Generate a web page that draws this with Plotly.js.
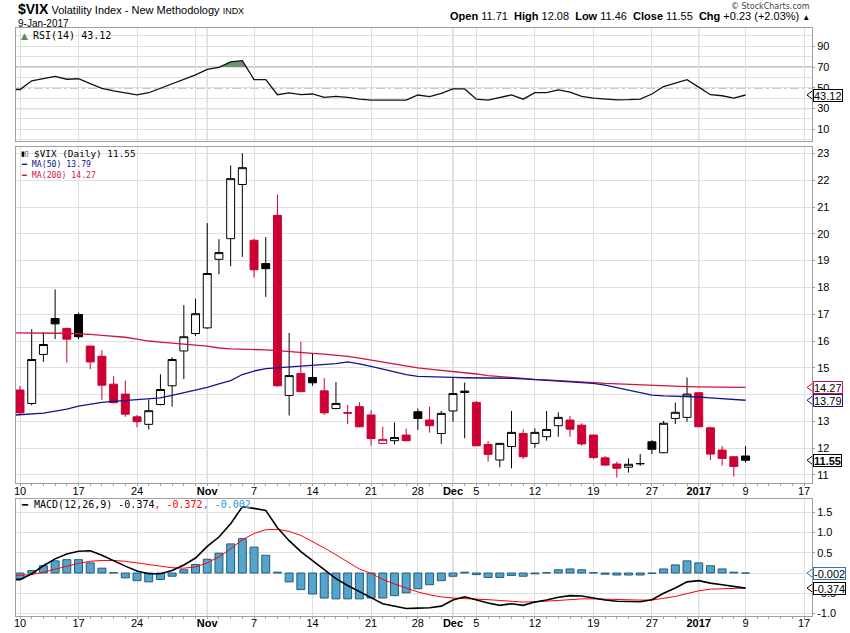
<!DOCTYPE html>
<html><head><meta charset="utf-8">
<script src="https://cdn.plot.ly/plotly-3.0.1.min.js"></script>
<style>html,body{margin:0;padding:0;background:#fff;}#chart{width:850px;height:633px;}</style>
</head><body><div id="chart"></div>
<script>
// ---------- DATA ----------
const dates = ['2016-10-10','2016-10-11','2016-10-12','2016-10-13','2016-10-14','2016-10-17','2016-10-18','2016-10-19','2016-10-20','2016-10-21',
 '2016-10-24','2016-10-25','2016-10-26','2016-10-27','2016-10-28','2016-10-31','2016-11-01','2016-11-02','2016-11-03','2016-11-04',
 '2016-11-07','2016-11-08','2016-11-09','2016-11-10','2016-11-11','2016-11-14','2016-11-15','2016-11-16','2016-11-17','2016-11-18',
 '2016-11-21','2016-11-22','2016-11-23','2016-11-25','2016-11-28','2016-11-29','2016-11-30','2016-12-01','2016-12-02','2016-12-05',
 '2016-12-06','2016-12-07','2016-12-08','2016-12-09','2016-12-12','2016-12-13','2016-12-14','2016-12-15','2016-12-16','2016-12-19',
 '2016-12-20','2016-12-21','2016-12-22','2016-12-23','2016-12-27','2016-12-28','2016-12-29','2016-12-30','2017-01-03','2017-01-04',
 '2017-01-05','2017-01-06','2017-01-09'];
const openP = [14.17,13.67,15.50,16.84,16.47, 16.99,15.81,15.43,14.39,14.02, 13.17,12.89,13.63,14.33,15.63, 16.28,16.49,19.05,19.82,21.84,
 19.76,18.89,20.69,13.97,14.79, 14.64,14.14,13.48,13.33,13.55, 13.24,12.18,12.28,12.49,13.36, 13.05,12.55,13.39,14.13,13.71,
 12.14,11.56,12.06,12.55,12.18, 12.43,12.84,13.05,12.86,12.49, 11.64,11.41,11.29,11.43,12.24, 11.83,13.11,13.15,14.07,12.76,
 11.93,11.68,11.71];
const highP = [14.32,16.44,16.32,17.93,16.50, 17.06,15.83,15.66,14.69,14.52, 13.24,13.82,14.76,15.39,17.34, 17.58,20.40,19.80,22.55,23.01,
 19.82,19.88,21.46,16.30,15.97, 15.53,14.61,14.47,13.61,13.72, 13.42,12.80,12.96,12.73,13.48, 13.55,13.39,14.63,14.45,13.76,
 12.27,12.20,13.39,12.71,12.74, 13.39,13.34,13.20,12.93,12.50, 11.71,11.50,11.62,11.78,12.30, 13.02,13.70,14.64,14.09,12.80,
 12.08,11.71,12.08];
const lowP = [13.24,13.60,15.22,16.07,15.19, 16.07,14.95,13.80,13.67,13.17, 12.78,12.70,13.60,13.55,14.58, 16.19,16.45,18.49,18.79,19.14,
 18.37,17.65,14.29,13.22,14.09, 14.33,13.24,13.45,12.90,12.78, 12.09,12.16,12.14,12.26,12.68, 12.58,12.16,12.99,12.37,12.07,
 11.50,11.29,11.25,11.60,12.02, 12.28,12.43,12.43,12.09,11.60, 11.35,10.90,11.09,11.34,11.78, 11.81,12.90,12.99,12.78,11.56,
 11.35,10.94,11.46];
const closeP = [13.32,15.31,15.87,16.64,16.07, 16.16,15.22,14.35,13.70,13.27, 12.99,13.40,14.19,15.31,16.16, 17.02,18.52,19.30,22.06,22.47,
 18.66,18.70,14.33,14.71,14.11, 14.44,13.32,13.67,13.31,12.80, 12.36,12.33,12.40,12.28,13.11, 12.84,13.30,14.04,14.08,12.09,
 11.77,12.18,12.59,11.68,12.59, 12.70,13.15,12.71,12.16,11.65, 11.37,11.25,11.40,11.42,11.96, 12.93,13.34,14.02,12.80,11.78,
 11.62,11.32,11.55];
const priorClose = 13.48; // close of the session before the first one shown

// indicator lines start one session before the first candle (clipped by the frame)
const ma50 = [13.22,13.25,13.28,13.31,13.38,13.46,13.57,13.65,13.71,13.75,13.78,13.81,13.84,13.88,13.97,14.07,14.17,14.27,14.40,14.52,
 14.75,14.88,14.97,15.00,15.03,15.05,15.09,15.12,15.16,15.22,15.15,15.05,14.95,14.84,14.75,14.68,14.66,14.65,14.64,14.63,
 14.63,14.63,14.62,14.61,14.59,14.56,14.53,14.51,14.48,14.45,14.42,14.35,14.26,14.17,14.08,13.98,13.95,13.94,13.93,13.91,
 13.88,13.85,13.82,13.79];
const ma200 = [16.31,16.30,16.30,16.30,16.29,16.29,16.28,16.25,16.21,16.18,16.14,16.07,16.00,15.96,15.93,15.89,15.85,15.81,15.74,15.71,
 15.70,15.69,15.67,15.64,15.60,15.56,15.54,15.51,15.47,15.43,15.36,15.29,15.21,15.13,15.06,15.00,14.95,14.91,14.87,14.83,
 14.77,14.71,14.67,14.63,14.59,14.57,14.55,14.53,14.50,14.47,14.45,14.42,14.40,14.38,14.36,14.34,14.32,14.31,14.30,14.29,
 14.28,14.28,14.27,14.27];
const rsi = [48.5,48.4,56.8,59.0,61.0,58.3,58.8,54.0,49.5,47.0,45.0,43.2,45.3,49.5,54.3,58.5,62.5,67.8,69.7,75.0,
 76.2,57.9,57.9,43.4,45.1,43.4,44.1,40.8,41.8,40.8,39.1,38.2,38.2,38.2,38.2,43.1,41.5,44.8,49.0,49.0,
 39.1,38.2,40.5,43.2,39.1,45.4,45.4,48.0,45.8,41.9,40.1,39.3,38.4,38.6,39.1,44.1,51.3,54.5,57.9,50.7,
 43.4,42.4,40.1,43.12];
const macd = [-0.17,-0.165,-0.02,0.18,0.35,0.47,0.54,0.55,0.44,0.30,0.17,0.05,-0.02,-0.02,0.06,0.20,0.37,0.66,0.89,1.22,
 1.64,1.60,1.55,1.12,0.80,0.53,0.30,0.08,-0.14,-0.31,-0.45,-0.61,-0.76,-0.82,-0.88,-0.87,-0.86,-0.82,-0.67,-0.59,
 -0.67,-0.74,-0.80,-0.76,-0.80,-0.72,-0.67,-0.60,-0.56,-0.57,-0.62,-0.67,-0.70,-0.71,-0.71,-0.66,-0.50,-0.37,-0.22,-0.19,
 -0.25,-0.29,-0.33,-0.374];
const signal = [-0.07,-0.06,-0.04,0.02,0.09,0.17,0.24,0.29,0.31,0.31,0.29,0.25,0.21,0.16,0.13,0.12,0.15,0.25,0.40,0.60,
 0.82,0.98,1.07,1.08,1.03,0.93,0.78,0.62,0.45,0.28,0.10,-0.01,-0.16,-0.27,-0.37,-0.47,-0.54,-0.59,-0.62,-0.63,
 -0.64,-0.66,-0.68,-0.70,-0.72,-0.71,-0.70,-0.68,-0.66,-0.64,-0.64,-0.65,-0.66,-0.67,-0.67,-0.67,-0.62,-0.58,-0.51,-0.44,
 -0.40,-0.385,-0.378,-0.372];
const hist = [-0.14,0.06,0.18,0.30,0.33,0.33,0.25,0.12,0.01,-0.12,-0.19,-0.22,-0.16,-0.08,0.08,0.21,0.34,0.49,0.72,0.85,
 0.64,0.44,0.02,-0.22,-0.41,-0.52,-0.62,-0.64,-0.64,-0.64,-0.62,-0.62,-0.56,-0.49,-0.39,-0.29,-0.19,-0.08,0.02,-0.04,
 -0.11,-0.11,-0.06,-0.08,-0.02,0.01,0.08,0.10,0.08,0.01,-0.03,-0.05,-0.05,-0.05,-0.01,0.10,0.20,0.30,0.25,0.18,
 0.10,0.02,-0.002];

// x tick positions are session numbers (0 = first session); 67 is a future session (17 Jan)
const tickIdx  = [0,5,10,15,16,20,25,30,34,37,39,44,49,54,58,62,67];
const tickText = ['10','17','24','','<b>Nov</b>','7','14','21','28','<b>Dec</b>','5','12','19','27','<b>2017</b>','9','17'];
const monthIdx = [16,37,58];
const rsiTicks = [10,30,50,70,90];
const rsiMinor = [0,20,40,60,80,100];
const rsiBands = [30,70];
const rsiMid = 50;
const priceTicks = [11,12,13,14,15,16,17,18,19,20,21,22,23];
const macdTicks = [-1,-0.5,0,0.5,1,1.5];
// tick labels that sit fully behind a value tag in the reference
const hiddenPriceTicks = [14];
const hiddenMacdTicks = [0];

// ---------- BUILD ----------
const W = 850, H = 633, L = 16, R = 38;
const PW = W - L - R;
const px = v => (v - L) / PW;      // pixel x -> paper x
const py = v => 1 - v / H;          // pixel y -> paper y
const N = closeP.length;
const candX = closeP.map((_, i) => i);
const lineX = rsi.map((_, k) => k - 1);
const xRange = [-0.342, 67.68];
const pxToData = v => xRange[0] + (v - L) / PW * (xRange[1] - xRange[0]);

const RED = 'rgb(204,0,51)', NAVY = 'rgb(20,20,140)', MA2C = 'rgb(210,20,60)';
const gridC = 'rgb(224,224,224)', frameC = 'rgb(160,160,160)', monthC = 'rgb(188,188,188)';
const HISTC = 'rgb(84,164,206)', HISTL = 'rgb(32,92,122)';

// split candles: black if close >= previous close, red otherwise
const grp = {k: {x:[],o:[],h:[],l:[],c:[]}, r: {x:[],o:[],h:[],l:[],c:[]}};
for (let i = 0; i < N; i++) {
  const prev = i === 0 ? priorClose : closeP[i-1];
  const g = closeP[i] >= prev ? grp.k : grp.r;
  g.x.push(i); g.o.push(openP[i]); g.h.push(highP[i]); g.l.push(lowP[i]); g.c.push(closeP[i]);
}
function candle(g, col) {
  return {type:'candlestick', x:g.x, open:g.o, high:g.h, low:g.l, close:g.c, xaxis:'x', yaxis:'y',
    increasing:{line:{color:col,width:1}, fillcolor:'#ffffff'},
    decreasing:{line:{color:col,width:1}, fillcolor:col},
    whiskerwidth:0, hoverinfo:'skip', showlegend:false};
}

// RSI > 70 fill polygon (with interpolated crossings)
const fx = [], fy = [];
for (let k = 0; k < rsi.length; k++) {
  if (k > 0) {
    const a = rsi[k-1], b = rsi[k];
    if ((a - 70) * (b - 70) < 0) { const t = (70 - a) / (b - a); fx.push(lineX[k-1] + t); fy.push(70); }
  }
  fx.push(lineX[k]); fy.push(Math.max(rsi[k], 70));
}

const traces = [
  {type:'scatter', mode:'lines', x:fx, y:fx.map(() => 70), xaxis:'x2', yaxis:'y2', line:{width:0}, hoverinfo:'skip', showlegend:false},
  {type:'scatter', mode:'lines', x:fx, y:fy, xaxis:'x2', yaxis:'y2', fill:'tonexty', fillcolor:'rgb(110,150,110)', line:{width:0}, hoverinfo:'skip', showlegend:false},
  {type:'scatter', mode:'lines', x:lineX, y:rsi, xaxis:'x2', yaxis:'y2', line:{color:'#111', width:1.3}, hoverinfo:'skip', showlegend:false},
  {type:'scatter', mode:'lines', x:lineX, y:ma200, xaxis:'x', yaxis:'y', line:{color:MA2C, width:1.3}, hoverinfo:'skip', showlegend:false},
  {type:'scatter', mode:'lines', x:lineX, y:ma50, xaxis:'x', yaxis:'y', line:{color:NAVY, width:1.3}, hoverinfo:'skip', showlegend:false},
  candle(grp.k, '#000000'),
  candle(grp.r, RED),
  {type:'bar', x:candX, y:hist, xaxis:'x3', yaxis:'y3', width:0.68, marker:{color:HISTC, line:{color:HISTL, width:1}}, hoverinfo:'skip', showlegend:false},
  {type:'scatter', mode:'lines', x:lineX, y:signal, xaxis:'x3', yaxis:'y3', line:{color:'rgb(255,0,0)', width:1}, hoverinfo:'skip', showlegend:false},
  {type:'scatter', mode:'lines', x:lineX, y:macd, xaxis:'x3', yaxis:'y3', line:{color:'#000', width:1.6}, hoverinfo:'skip', showlegend:false}
];

const tickFont = {family:'Liberation Sans, Arial, sans-serif', size:11, color:'#000'};
function xAx(anchor, labels) {
  const a = {anchor, domain:[0,1], range:xRange, type:'linear', tickmode:'array', tickvals:tickIdx, ticktext:tickText,
    showticklabels:labels, ticks:'', ticklabelstandoff:-3,
    showgrid:true, gridcolor:gridC, gridwidth:1, zeroline:false, showline:true, mirror:true, linecolor:frameC, linewidth:1,
    tickfont:tickFont, fixedrange:true};
  if (labels) a.minor = {dtick:1, tick0:0, ticks:'outside', ticklen:2, tickcolor:frameC, showgrid:false};
  return a;
}
function yAx(anchor, domain, range) {
  return {anchor, domain, range, side:'right', showgrid:true, gridcolor:gridC, zeroline:false, showline:true, mirror:true,
    linecolor:frameC, linewidth:1, ticks:'outside', ticklen:2, tickcolor:frameC, tickfont:tickFont, fixedrange:true};
}

const layout = {
  width:W, height:H, margin:{l:L, r:R, t:0, b:0, pad:0}, paper_bgcolor:'#fff', plot_bgcolor:'#fff',
  showlegend:false, boxgap:0.32, boxgroupgap:0, bargap:0,
  xaxis: Object.assign(xAx('y', true), {rangeslider:{visible:false}}),
  xaxis2: xAx('y2', false),
  xaxis3: xAx('y3', true),
  yaxis: Object.assign(yAx('x', [py(483.3), py(147.3)], [10.69, 23.23]),
           {tickmode:'array', tickvals:priceTicks, ticktext:priceTicks.map(v => hiddenPriceTicks.includes(v) ? '' : String(v))}),
  yaxis2: Object.assign(yAx('x2', [py(141.3), py(28.3)], [-1.5, 107.4]),
           {tickmode:'array', tickvals:rsiTicks, minor:{tickvals:rsiMinor, showgrid:true, gridcolor:gridC, ticks:''}}),
  yaxis3: Object.assign(yAx('x3', [py(616), py(499.3)], [-1.064, 1.824]),
           {tickmode:'array', tickvals:macdTicks, ticktext:macdTicks.map(v => hiddenMacdTicks.includes(v) ? '' : v.toFixed(1))}),
  shapes: [], annotations: []
};

// darker month-start gridlines in all panels
[['x','y'],['x2','y2'],['x3','y3']].forEach(([xa, ya]) => {
  monthIdx.forEach(m => layout.shapes.push({type:'line', xref:xa, yref:ya + ' domain', x0:m, x1:m, y0:0, y1:1,
    line:{color:monthC, width:1}, layer:'below'}));
});
// RSI reference levels
rsiBands.forEach(v => layout.shapes.push({type:'line', xref:'x2 domain', yref:'y2', x0:0, x1:1, y0:v, y1:v, line:{color:'rgb(100,100,100)', width:1}, layer:'below'}));
layout.shapes.push({type:'line', xref:'x2 domain', yref:'y2', x0:0, x1:1, y0:rsiMid, y1:rsiMid, line:{color:'rgb(110,110,110)', width:1, dash:'dashdot'}, layer:'below'});

// ---------- TEXT ----------
const A = layout.annotations;
function txt(text, xpx, ypx, opt) {
  A.push(Object.assign({text, x:px(xpx), y:py(ypx), xref:'paper', yref:'paper', xanchor:'left', yanchor:'middle', showarrow:false,
    font:{family:'Liberation Sans, Arial, sans-serif', size:11, color:'#000'}}, opt || {}));
}
const last = N - 1;
const chg = closeP[last] - closeP[last-1];
const pct = chg / closeP[last-1] * 100;
const mon = ['Jan','Feb','Mar','Apr','May','Jun','Jul','Aug','Sep','Oct','Nov','Dec'];
const ld = dates[last].split('-');
const dateStr = (+ld[2]) + '-' + mon[+ld[1]-1] + '-' + ld[0];
const f2 = v => v.toFixed(2);
const sgn = v => (v >= 0 ? '+' : '') + v.toFixed(2);

txt('<span style="font-size:14px"><b>$VIX</b></span> Volatility Index - New Methodology <span style="font-size:9px">INDX</span>', 16, 9);
txt(dateStr, 16, 23, {font:{family:'Liberation Sans, Arial, sans-serif', size:10, color:'#000'}});
txt('© StockCharts.com', 812, 6.5, {xanchor:'right', font:{family:'DejaVu Sans, sans-serif', size:8, color:'#444'}});
txt('<b>Open</b> ' + f2(openP[last]) + '  <b>High</b> ' + f2(highP[last]) + '  <b>Low</b> ' + f2(lowP[last]) +
    '  <b>Close</b> ' + f2(closeP[last]) + '  <b>Chg</b> ' + sgn(chg) + ' (' + sgn(pct) + '%) <span style="font-size:8px">▲</span>',
    812, 16, {xanchor:'right'});

const mono = {family:'DejaVu Sans Mono, monospace', size:10, color:'#000'};
txt('<span style="color:rgb(90,140,90)">▲</span>', 19, 35.5, {font:{family:'DejaVu Sans', size:9, color:'#000'}});
txt('RSI(14) ' + rsi[rsi.length-1].toFixed(2), 31, 35.5, {font:mono});
txt('▮▯', 19, 153.7, {font:{family:'DejaVu Sans', size:7, color:'#000'}});
txt('$VIX (Daily) ' + f2(closeP[last]), 31.5, 153.7, {font:Object.assign({}, mono, {size:9.4})});
txt('<span style="color:' + NAVY + '">━ MA(50) ' + f2(ma50[ma50.length-1]) + '</span>', 19, 164.3, {font:Object.assign({}, mono, {size:8.2, color:NAVY})});
txt('<span style="color:' + MA2C + '">━ MA(200) ' + f2(ma200[ma200.length-1]) + '</span>', 19, 175, {font:Object.assign({}, mono, {size:8.2, color:MA2C})});
txt('━ MACD(12,26,9) ' + macd[macd.length-1].toFixed(3) + '<span style="color:rgb(255,0,0)">, ' + signal[signal.length-1].toFixed(3) +
    '</span><span style="color:rgb(40,150,210)">, ' + hist[hist.length-1].toFixed(3) + '</span>', 19, 505, {font:mono});

// value tags on the right axis (box + left-pointing tip)
const tipX = pxToData(811);
function tag(val, xa, yref, border, digits, bold) {
  const t = val.toFixed(digits);
  traces.push({type:'scatter', mode:'markers', x:[tipX], y:[val], xaxis:xa, yaxis:yref, cliponaxis:false,
    marker:{symbol:'triangle-left', size:8, color:'#fff', line:{color:border, width:1}}, hoverinfo:'skip', showlegend:false});
  A.push({text: bold ? '<b>' + t + '</b>' : t, x:px(813), y:val, xref:'paper', yref, xanchor:'left', yanchor:'middle', showarrow:false,
    bgcolor:'#fff', bordercolor:border, borderwidth:1, borderpad:0, height:11, valign:'middle',
    font:{family:'Liberation Sans, Arial, sans-serif', size:11, color:'#000'}});
}
tag(rsi[rsi.length-1], 'x2', 'y2', '#000', 2, false);
tag(ma200[ma200.length-1], 'x', 'y', MA2C, 2, false);
tag(ma50[ma50.length-1], 'x', 'y', NAVY, 2, false);
tag(closeP[last], 'x', 'y', '#000', 2, true);
tag(hist[hist.length-1], 'x3', 'y3', 'rgb(40,120,170)', 3, false);
tag(macd[macd.length-1], 'x3', 'y3', '#000', 3, false);

Plotly.newPlot('chart', traces, layout, {staticPlot:true, displayModeBar:false});
</script></body></html>
